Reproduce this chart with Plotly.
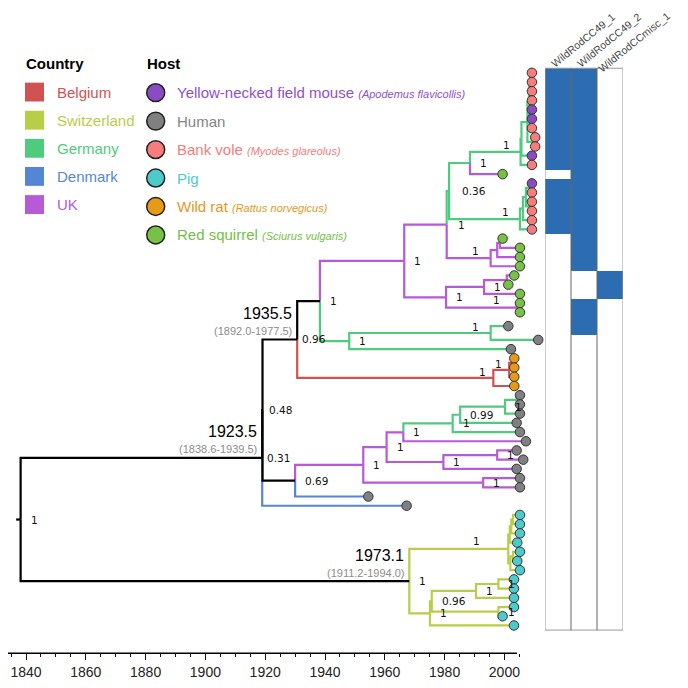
import plotly.graph_objects as go

# ---------------- DATA ----------------
# tree topology (children listed top -> bottom)
children = {
    'Root': ['N1', 'NCH'],
    'N1': ['NA', 't47'],
    'NA': ['N2', 'N4'],
    'N2': ['N3', 'B'],
    'N3': ['P', 'G1'],
    'P': ['Pu', 'Pl'],
    'Pu': ['Gn', 'Pp'],
    'Gn': ['Ga', 'Gb'],
    'Ga': ['Ga1', 't12'],
    'Ga1': ['Ga1p', 't11'],
    'Ga1p': ['Ga2', 't10'],
    'Ga2': ['C', 'c89'],
    'C': ['c13', 'c47'],
    'c13': ['c12', 't3'],
    'c12': ['t1', 't2'],
    'c47': ['c46', 't7'],
    'c46': ['c45', 't6'],
    'c45': ['t4', 't5'],
    'c89': ['t8', 't9'],
    'Gb': ['Gb1', 't18'],
    'Gb1': ['Gb2', 't17'],
    'Gb2': ['b1314', 'b1516'],
    'b1314': ['t13', 't14'],
    'b1516': ['t15', 't16'],
    'Pp': ['Pp1', 't22'],
    'Pp1': ['p1920', 't21'],
    'p1920': ['t19', 't20'],
    'Pl': ['Pl1', 'Pl2'],
    'Pl1': ['Pl1a', 't25'],
    'Pl1a': ['t23', 't24'],
    'Pl2': ['t26', 't27'],
    'G1': ['G2', 't30'],
    'G2': ['t28', 't29'],
    'B': ['B1', 't34'],
    'B1': ['B2', 't33'],
    'B2': ['t31', 't32'],
    'N4': ['P2', 't46'],
    'P2': ['P3', 'P4'],
    'P3': ['P5', 'P6'],
    'P5': ['G3', 't40'],
    'G3': ['G4', 't39'],
    'G4': ['G5', 't38'],
    'G5': ['G6', 't37'],
    'G6': ['t35', 't36'],
    'P6': ['P7', 't43'],
    'P7': ['t41', 't42'],
    'P4': ['t44', 't45'],
    'NCH': ['U', 'L'],
    'U': ['Ua', 'Ub'],
    'Ua': ['Ua1', 't51'],
    'Ua1': ['Ua2', 't50'],
    'Ua2': ['t48', 't49'],
    'Ub': ['Ub1', 't54'],
    'Ub1': ['t52', 't53'],
    'L': ['L1', 't60'],
    'L1': ['M', 'Nn'],
    'M': ['m5657', 't57'],
    'm5657': ['t55', 't56'],
    'Nn': ['t58', 't59'],
}

# internal node dates (years)
node_date = {
    'Root': 1838.2, 'N1': 1919.0, 'NA': 1919.1, 'N2': 1930.7, 'N3': 1938.3,
    'P': 1966.5, 'Pu': 1980.7, 'Gn': 1981.5, 'Ga': 1988.5, 'Ga1': 2005.4,
    'Ga1p': 2005.7, 'Ga2': 2007.7, 'C': 2008.2, 'c13': 2008.6, 'c12': 2008.9,
    'c47': 2008.4, 'c46': 2008.7, 'c45': 2008.9, 'c89': 2009.2,
    'Gb': 2005.2, 'Gb1': 2006.2, 'Gb2': 2007.2, 'b1314': 2008.2, 'b1516': 2008.3,
    'Pp': 1995.4, 'Pp1': 1997.6, 'p1920': 1998.5,
    'Pl': 1980.5, 'Pl1': 1993.2, 'Pl1a': 2000.8, 'Pl2': 2004.1,
    'G1': 1948.1, 'G2': 1995.4,
    'B': 1996.3, 'B1': 2001.6, 'B2': 2002.5,
    'N4': 1930.0, 'P2': 1952.8, 'P3': 1960.6, 'P5': 1966.2,
    'G3': 1982.7, 'G4': 1985.2, 'G5': 2000.2, 'G6': 2004.1,
    'P6': 1979.6, 'P7': 1997.6, 'P4': 1992.9,
    'NCH': 1968.2, 'U': 2001.3, 'Ua': 2001.8, 'Ua1': 2002.3, 'Ua2': 2002.9,
    'Ub': 2002.0, 'Ub1': 2002.9,
    'L': 1975.1, 'L1': 1975.7, 'M': 1990.5, 'm5657': 1998.0, 'Nn': 1998.0,
}
root_edge_start = 1836.7

# tip dates, tips t1..t60 in order
tip_date = [
    2009.2, 2009.2, 2009.2, 2009.2, 2009.2, 2009.2, 2009.2, 2010.3, 2010.3, 2009.2,
    2009.2, 1999.4, 2009.2, 2009.2, 2009.2, 2009.2, 2009.2, 2009.2, 1999.4, 2005.2,
    2005.2, 2005.2, 2003.3, 2001.3, 2005.2, 2005.2, 2005.2, 2001.3, 2011.3, 2002.2,
    2003.3, 2003.3, 2003.3, 2003.3, 2005.2, 2005.2, 2005.2, 2004.1, 2005.2, 2007.2,
    2004.1, 2006.3, 2004.1, 2005.2, 2005.2, 1954.5, 1967.3, 2005.2, 2005.2, 2005.2,
    2004.3, 2005.2, 2004.3, 2005.2, 2003.2, 2003.2, 2003.2, 2003.2, 1999.4, 2003.2,
]

# tip hosts, tips t1..t60 in order
tip_host = [
    'BV', 'BV', 'BV', 'BV', 'YM', 'YM', 'BV', 'BV', 'BV', 'YM', 'BV', 'RS',
    'YM', 'BV', 'BV', 'BV', 'BV', 'BV',
    'RS', 'RS', 'RS', 'RS', 'RS', 'RS', 'RS', 'RS', 'RS',
    'HU', 'HU', 'HU',
    'WR', 'WR', 'WR', 'WR',
    'HU', 'HU', 'HU', 'HU', 'HU', 'HU', 'HU', 'HU', 'HU', 'HU', 'HU', 'HU', 'HU',
    'PG', 'PG', 'PG', 'PG', 'PG', 'PG', 'PG', 'PG', 'PG', 'PG', 'PG', 'PG', 'PG',
]

# country of the branch leading to a node (inherited by descendants)
branch_country = {
    'Root': 'anc', 'N1': 'anc', 'NA': 'anc', 'N2': 'anc', 'N3': 'anc', 'N4': 'anc',
    'NCH': 'anc', 't47': 'DEN', 't46': 'DEN', 'P': 'UK', 'Gn': 'GER', 't12': 'UK',
    'G1': 'GER', 'B': 'BEL', 'P2': 'UK', 'G3': 'GER', 'U': 'SUI', 'L': 'SUI',
}

# posterior supports
support = {
    'Root': '1', 'N1': '0.31', 'NA': '0.48', 'N2': '0.96', 'N3': '1', 'P': '1',
    'Pu': '1', 'Gn': '0.36', 'Ga': '1', 'Ga1': '1', 'Gb': '1', 'Pp': '1',
    'Pl': '1', 'Pl1': '1', 'Pl2': '1', 'G1': '1', 'G2': '1', 'B': '1', 'B1': '1',
    'N4': '0.69', 'P2': '1', 'P3': '1', 'P5': '1', 'G3': '1', 'G4': '0.99',
    'G5': '1', 'P6': '1', 'P7': '1', 'P4': '1', 'NCH': '1', 'U': '1',
    'L1': '0.96', 'L': '1', 'M': '1', 'm5657': '1', 'Nn': '1',
}

# dated node labels (median, HPD)
date_labels = {
    'N1': ('1923.5', '(1838.6-1939.5)'),
    'N2': ('1935.5', '(1892.0-1977.5)'),
    'NCH': ('1973.1', '(1911.2-1994.0)'),
}

# heatmap (one char per tip row, 61 rows)
heat_columns = ['WildRodCC49_1', 'WildRodCC49_2', 'WildRodCCmisc_1']
cc49_1 = '11111111111' + '0' + '111111' + '0' * 43
cc49_2 = '1' * 22 + '000' + '1111' + '0' * 32
ccmisc = '0' * 22 + '111' + '0' * 36

countries = ['Belgium', 'Switzerland', 'Germany', 'Denmark', 'UK']
hosts = [
    ('YM', 'Yellow-necked field mouse', 'Apodemus flavicollis'),
    ('HU', 'Human', None),
    ('BV', 'Bank vole', 'Myodes glareolus'),
    ('PG', 'Pig', None),
    ('WR', 'Wild rat', 'Rattus norvegicus'),
    ('RS', 'Red squirrel', 'Sciurus vulgaris'),
]
year_ticks = [1840, 1860, 1880, 1900, 1920, 1940, 1960, 1980, 2000]

# ---------------- STYLE ----------------
COUNTRY_COLOR = {'anc': '#000000', 'BEL': '#D05353', 'SUI': '#B8CD48',
                 'GER': '#4FCB7E', 'DEN': '#5486D3', 'UK': '#B75AD6'}
COUNTRY_LEGEND_COLOR = {'Belgium': '#D05353', 'Switzerland': '#B8CD48',
                        'Germany': '#4FCB7E', 'Denmark': '#5486D3', 'UK': '#B75AD6'}
HOST_COLOR = {'YM': '#8A4CC2', 'HU': '#808080', 'BV': '#F77C7C',
              'PG': '#4DCACA', 'WR': '#E69B18', 'RS': '#78C147'}
HOST_TEXT_COLOR = {'YM': '#9150C9', 'HU': '#858585', 'BV': '#F77C7C',
                   'PG': '#4DCACA', 'WR': '#E39A1B', 'RS': '#74C045'}
BLUE = '#2C6CB0'
WIDE_TIPS = {'t28': 2}
SANS = 'Liberation Sans, Arial, sans-serif'
DEJA = 'DejaVu Sans, Verdana, sans-serif'

# page has an 8px body margin: figure is 672x672, shifted by 8px
OFF = 8
W = H = 672
PX_1840, PX_PER_YEAR = 26.0 - OFF, 2.99
XMIN = 1840 - PX_1840 / PX_PER_YEAR
XMAX = 1840 + (W - PX_1840) / PX_PER_YEAR
ROW1_PX, ROW_PX = 73.3 - OFF, 9.28
YMIN = 1 - ROW1_PX / ROW_PX
YMAX = 1 + (H - ROW1_PX) / ROW_PX


def px(x):
    return (x - OFF) / W


def py(y):
    return 1 - (y - OFF) / H


# ---------------- LAYOUT OF TREE ----------------
tip_index = {f't{i + 1}': i for i in range(len(tip_date))}
ypos, date, parent = {}, {}, {}
slot = [0]


def place(n):
    if n in children:
        ys = []
        for c in children[n]:
            parent[c] = n
            ys.append(place(c))
        ypos[n] = (ys[0] + ys[-1]) / 2
        date[n] = node_date[n]
    else:
        span = WIDE_TIPS.get(n, 1)
        ypos[n] = slot[0] + (span + 1) / 2
        slot[0] += span
        date[n] = tip_date[tip_index[n]]
    return ypos[n]


place('Root')

country = {}


def color_of(n):
    if n in country:
        return country[n]
    c = branch_country.get(n)
    if c is None:
        c = color_of(parent[n])
    country[n] = c
    return c


segs = {}
for n in date:
    if n == 'Root':
        continue
    p = parent[n]
    c = color_of(n)
    xs, ys = segs.setdefault(c, ([], []))
    xs += [date[p], date[p], date[n], None]
    ys += [ypos[p], ypos[n], ypos[n], None]

fig = go.Figure()
order = [c for c in segs if c != 'anc'] + ['anc']
for c in order:
    if c not in segs:
        continue
    xs, ys = segs[c]
    if c == 'anc':
        xs = xs + [root_edge_start, date['Root'], None]
        ys = ys + [ypos['Root'], ypos['Root'], None]
    fig.add_trace(go.Scatter(x=xs, y=ys, mode='lines',
                             line=dict(color=COUNTRY_COLOR[c], width=2.2),
                             hoverinfo='skip', showlegend=False))

tips = [f't{i + 1}' for i in range(len(tip_date))]
fig.add_trace(go.Scatter(
    x=[date[t] for t in tips], y=[ypos[t] for t in tips], mode='markers',
    marker=dict(size=9.5, color=[HOST_COLOR[h] for h in tip_host],
                line=dict(color='#333333', width=1)),
    hoverinfo='skip', showlegend=False))

# heatmap
rows = list(range(1, len(cc49_1) + 1))
z = [[int(a), int(b), int(c)] for a, b, c in zip(cc49_1, cc49_2, ccmisc)]
fig.add_trace(go.Heatmap(z=z, x=[0, 1, 2], y=rows, xaxis='x2', yaxis='y',
                         zmin=0, zmax=1, colorscale=[[0, '#FFFFFF'], [1, BLUE]],
                         showscale=False, hoverinfo='skip'))

annotations = []
shapes = []

# support labels
LABEL_OFFSET = {'N1': (4.5, 0), 'NA': (6, 0), 'N2': (4.5, 0), 'Gn': (12.5, 0),
                'Pu': (11.5, 0), 'Ga1': (-18, -6.5), 'Gb': (-17.5, -7.5),
                'Pp': (-19, -7.5), 'Pl2': (-24, -7.5), 'G2': (-19, -6.5),
                'B': (-14, -6), 'B1': (-14.5, -6), 'U': (-35, -8)}
for n, s in support.items():
    dx, dy = LABEL_OFFSET.get(n, (10, 0))
    annotations.append(dict(x=date[n], y=ypos[n], xref='x', yref='y', text=s,
                            showarrow=False, xanchor='left', yanchor='middle',
                            xshift=dx - 2, yshift=-dy,
                            font=dict(family=DEJA, size=10.5, color='#111111')))

# date labels
for n, (med, hpd) in date_labels.items():
    annotations.append(dict(x=date[n], y=ypos[n], xref='x', yref='y', text=med,
                            showarrow=False, xanchor='right', yanchor='middle',
                            xshift=-3, yshift=26,
                            font=dict(family=SANS, size=16, color='#000000')))
    annotations.append(dict(x=date[n], y=ypos[n], xref='x', yref='y', text=hpd,
                            showarrow=False, xanchor='right', yanchor='middle',
                            xshift=-3, yshift=8.5,
                            font=dict(family=SANS, size=11, color='#8C8C8C')))

# heatmap frame and column labels
shapes.append(dict(type='rect', xref='x2', yref='y', x0=-0.5, x1=2.5, y0=0.5,
                   y1=len(rows) + 0.5, line=dict(color='#999999', width=1)))
for xb in (0.5, 1.5):
    shapes.append(dict(type='line', xref='x2', yref='y', x0=xb, x1=xb, y0=0.5,
                       y1=len(rows) + 0.5, line=dict(color='#666666', width=1)))
COL_LABEL_SHIFT = [(-12, -4), (-12, -4), (-17, -9)]
for i, name in enumerate(heat_columns):
    sx, sy = COL_LABEL_SHIFT[i]
    annotations.append(dict(x=i, y=0.5, xref='x2', yref='y', text=name,
                            showarrow=False, textangle=-39, xanchor='left',
                            yanchor='bottom', xshift=sx, yshift=sy,
                            font=dict(family=SANS, size=10.5, color='#444444')))

# time axis line
AXIS_Y = py(658)
shapes.append(dict(type='line', xref='x', yref='paper', x0=XMIN,
                   x1=1840 + (517 - 26) / PX_PER_YEAR, y0=AXIS_Y, y1=AXIS_Y,
                   line=dict(color='#000000', width=1.5)))
minor_ticks = [y for y in range(1835, 2010, 5) if y not in year_ticks]

# legend: country
annotations.append(dict(x=px(24), y=py(64), xref='paper', yref='paper',
                        text='<b>Country</b>', showarrow=False, xanchor='left',
                        yanchor='middle', font=dict(family=SANS, size=15, color='#000')))
for i, cname in enumerate(countries):
    yc = 92.7 + i * 28.33
    col = COUNTRY_LEGEND_COLOR[cname]
    shapes.append(dict(type='rect', xref='paper', yref='paper', x0=px(25), x1=px(44),
                       y0=py(yc - 9.5), y1=py(yc + 9.5), fillcolor=col,
                       line=dict(width=0)))
    annotations.append(dict(x=px(55), y=py(yc), xref='paper', yref='paper',
                            text=cname, showarrow=False, xanchor='left',
                            yanchor='middle', font=dict(family=SANS, size=15, color=col)))

# legend: host
annotations.append(dict(x=px(145), y=py(64), xref='paper', yref='paper',
                        text='<b>Host</b>', showarrow=False, xanchor='left',
                        yanchor='middle', font=dict(family=SANS, size=15, color='#000')))
for i, (code, common, latin) in enumerate(hosts):
    yc = 93.3 + i * 28.67
    shapes.append(dict(type='circle', xref='paper', yref='paper',
                       x0=px(155.7 - 9), x1=px(155.7 + 9), y0=py(yc - 9), y1=py(yc + 9),
                       fillcolor=HOST_COLOR[code], line=dict(color='#222222', width=1.5)))
    txt = common
    if latin:
        txt += f" <span style='font-size:11px'><i>({latin})</i></span>"
    annotations.append(dict(x=px(175), y=py(yc), xref='paper', yref='paper',
                            text=txt, showarrow=False, xanchor='left', yanchor='middle',
                            font=dict(family=SANS, size=15, color=HOST_TEXT_COLOR[code])))

fig.update_layout(
    width=W, height=H, margin=dict(l=0, r=0, t=0, b=0),
    paper_bgcolor='white', plot_bgcolor='white', showlegend=False,
    xaxis=dict(domain=[0, 1], range=[XMIN, XMAX], anchor='free', position=AXIS_Y,
               showgrid=False, zeroline=False, showline=False,
               tickmode='array', tickvals=year_ticks, ticktext=[str(v) for v in year_ticks],
               ticks='outside', ticklen=6, tickwidth=1.2, tickcolor='#111111',
               tickfont=dict(family=SANS, size=14, color='#222222'),
               minor=dict(tickvals=minor_ticks, ticks='outside', ticklen=3,
                          tickwidth=1, tickcolor='#111111', showgrid=False)),
    xaxis2=dict(domain=[px(545), px(623)], range=[-0.5, 2.5], anchor='y',
                visible=False, showgrid=False, zeroline=False),
    yaxis=dict(domain=[0, 1], range=[YMAX, YMIN], visible=False,
               showgrid=False, zeroline=False),
    annotations=annotations, shapes=shapes,
)

fig.write_html('out.html')
